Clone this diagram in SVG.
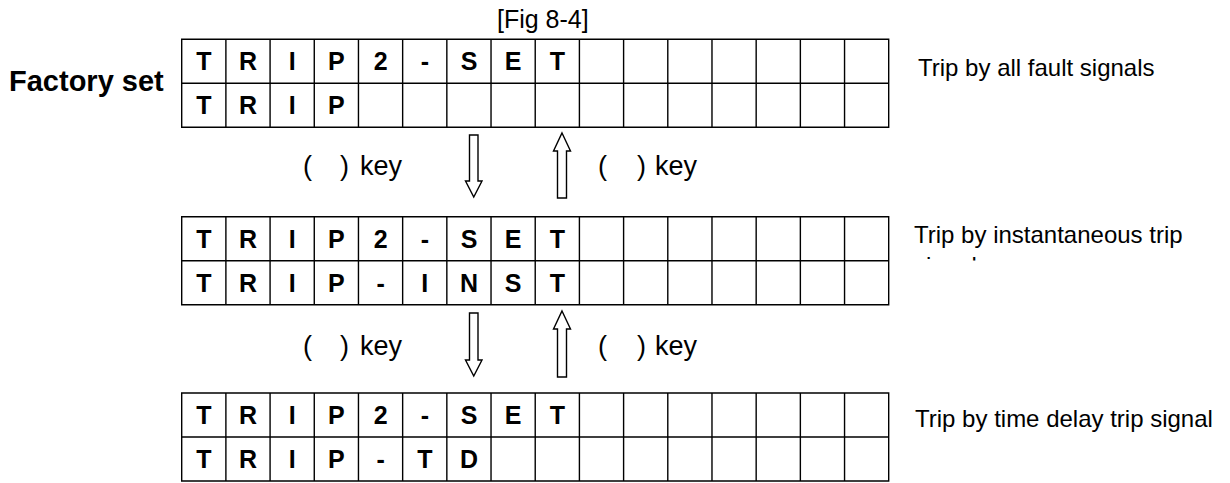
<svg xmlns="http://www.w3.org/2000/svg" xmlns:xlink="http://www.w3.org/1999/xlink" width="1230" height="483" viewBox="0 0 1230 483">
<style>
.bg{fill:#fff}
.grid{fill:none;stroke:#000;stroke-width:1.4}
.c{font-family:"Liberation Sans",Arial,sans-serif;font-weight:bold;font-size:25px;text-anchor:middle;fill:#000}
.t{font-family:"Liberation Sans",Arial,sans-serif;font-size:24px;fill:#000}
.ti{font-family:"Liberation Sans",Arial,sans-serif;font-size:25px;fill:#000}
.k{font-family:"Liberation Sans",Arial,sans-serif;font-size:27px;fill:#000}
.fs{font-family:"Liberation Sans",Arial,sans-serif;font-weight:bold;font-size:29px;fill:#000}
.arrow{fill:#fff;stroke:#000;stroke-width:1.4;stroke-linejoin:miter}
</style>
<defs>
<path id="gridshape" class="grid" d="M0,0H707V88H0Z M0,44H707 M44.19,0V88 M88.38,0V88 M132.57,0V88 M176.76,0V88 M220.95,0V88 M265.14,0V88 M309.33,0V88 M353.52,0V88 M397.71,0V88 M441.9,0V88 M486.09,0V88 M530.28,0V88 M574.47,0V88 M618.66,0V88 M662.85,0V88"/>
<clipPath id="clipSignal"><rect x="900" y="250" width="330" height="10.5"/></clipPath>
</defs>
<rect class="bg" x="0" y="0" width="1230" height="483"/>
<g id="title"><text class="ti" x="497" y="28">[Fig 8-4]</text></g>
<g id="factory-label"><text class="fs" x="9" y="91">Factory set</text></g>

<g id="display1">
<use xlink:href="#gridshape" x="181.7" y="39.3"/>
<text class="c" y="70.3"><tspan x="203.8">T</tspan><tspan x="248">R</tspan><tspan x="292.2">I</tspan><tspan x="336.4">P</tspan><tspan x="380.6">2</tspan><tspan x="424.8">-</tspan><tspan x="469">S</tspan><tspan x="513.2">E</tspan><tspan x="557.4">T</tspan></text>
<text class="c" y="114.3"><tspan x="203.8">T</tspan><tspan x="248">R</tspan><tspan x="292.2">I</tspan><tspan x="336.4">P</tspan></text>
</g>
<g id="note1"><text class="t" x="918" y="76">Trip by all fault signals</text></g>

<g id="display2">
<use xlink:href="#gridshape" x="181.7" y="216.7"/>
<text class="c" y="247.7"><tspan x="203.8">T</tspan><tspan x="248">R</tspan><tspan x="292.2">I</tspan><tspan x="336.4">P</tspan><tspan x="380.6">2</tspan><tspan x="424.8">-</tspan><tspan x="469">S</tspan><tspan x="513.2">E</tspan><tspan x="557.4">T</tspan></text>
<text class="c" y="291.7"><tspan x="203.8">T</tspan><tspan x="248">R</tspan><tspan x="292.2">I</tspan><tspan x="336.4">P</tspan><tspan x="380.6">-</tspan><tspan x="424.8">I</tspan><tspan x="469">N</tspan><tspan x="513.2">S</tspan><tspan x="557.4">T</tspan></text>
</g>
<g id="note2">
<text class="t" x="914" y="243.3">Trip by instantaneous trip</text>
<text class="t" x="914" y="274" clip-path="url(#clipSignal)">signal</text>
</g>

<g id="display3">
<use xlink:href="#gridshape" x="181.7" y="393"/>
<text class="c" y="424"><tspan x="203.8">T</tspan><tspan x="248">R</tspan><tspan x="292.2">I</tspan><tspan x="336.4">P</tspan><tspan x="380.6">2</tspan><tspan x="424.8">-</tspan><tspan x="469">S</tspan><tspan x="513.2">E</tspan><tspan x="557.4">T</tspan></text>
<text class="c" y="468"><tspan x="203.8">T</tspan><tspan x="248">R</tspan><tspan x="292.2">I</tspan><tspan x="336.4">P</tspan><tspan x="380.6">-</tspan><tspan x="424.8">T</tspan><tspan x="469">D</tspan></text>
</g>
<g id="note3"><text class="t" x="915" y="426.5">Trip by time delay trip signal</text></g>

<g id="connectors">
<path class="arrow" d="M469.5,135H478V181H482L473.75,197L465.5,181H469.5Z"/>
<path class="arrow" d="M562,133L570.5,151H566.5V198H557.5V151H553.5Z"/>
<path class="arrow" d="M469.5,313H478V360H482L473.75,376L465.5,360H469.5Z"/>
<path class="arrow" d="M562,311L570.5,329H566.5V377H557.5V329H553.5Z"/>
<text class="k" y="175"><tspan x="303">(</tspan><tspan x="340">)</tspan><tspan x="360">key</tspan></text>
<text class="k" y="175"><tspan x="598">(</tspan><tspan x="637">)</tspan><tspan x="655">key</tspan></text>
<text class="k" y="355"><tspan x="303">(</tspan><tspan x="340">)</tspan><tspan x="360">key</tspan></text>
<text class="k" y="355"><tspan x="598">(</tspan><tspan x="637">)</tspan><tspan x="655">key</tspan></text>
</g>
</svg>
